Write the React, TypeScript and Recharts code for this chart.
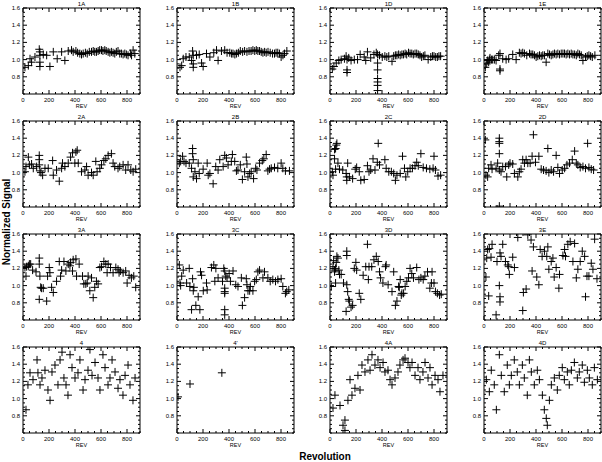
import { ScatterChart, Scatter, XAxis, YAxis, ReferenceArea } from "recharts";

type Pt = [number, number];

// revolution, normalized signal
const p1A: Pt[] = [[15,0.91],[41,0.93],[54,1.01],[66,0.97],[92,1.03],[125,1.12],[130,1.09],[130,1.05],[130,0.97],[130,0.92],[156,1.06],[182,1.05],[207,0.92],[233,1.09],[263,1.01],[297,1.09],[322,0.99],[348,1.10],[373,1.11],[386,1.09],[407,1.10],[420,1.08],[437,1.07],[450,1.06],[463,1.07],[480,1.08],[494,1.07],[510,1.09],[527,1.09],[540,1.10],[552,1.09],[565,1.09],[578,1.10],[590,1.11],[604,1.11],[615,1.10],[629,1.11],[640,1.10],[655,1.09],[668,1.08],[680,1.09],[693,1.08],[706,1.07],[718,1.09],[731,1.10],[744,1.07],[757,1.07],[770,1.06],[783,1.07],[795,1.06],[808,1.05],[826,1.07],[835,1.05],[847,1.11],[860,1.07]];
const p1B: Pt[] = [[23,0.91],[36,0.93],[48,1.01],[69,1.03],[94,1.03],[112,0.99],[120,1.10],[125,1.05],[125,0.95],[125,0.91],[150,1.05],[171,1.06],[189,0.96],[201,0.92],[227,1.07],[253,1.03],[283,1.08],[304,1.11],[316,0.99],[342,1.10],[367,1.11],[385,1.08],[406,1.08],[420,1.07],[431,1.07],[445,1.06],[457,1.07],[472,1.08],[487,1.10],[505,1.09],[520,1.10],[538,1.09],[554,1.10],[570,1.10],[584,1.11],[598,1.10],[610,1.11],[622,1.10],[635,1.10],[648,1.09],[661,1.08],[674,1.09],[686,1.08],[700,1.09],[717,1.08],[735,1.07],[750,1.07],[762,1.08],[775,1.08],[788,1.07],[801,1.03],[815,1.05],[827,1.07],[845,1.10]];
const p1D: Pt[] = [[18,0.89],[30,0.92],[48,0.96],[68,0.99],[86,1.00],[111,1.01],[124,1.04],[131,1.00],[131,0.88],[131,0.85],[144,1.02],[162,0.99],[187,1.00],[212,1.00],[232,1.06],[263,1.03],[275,0.99],[288,1.09],[313,1.02],[338,1.06],[356,1.08],[366,1.06],[366,0.96],[366,0.88],[366,0.78],[366,0.74],[366,0.70],[366,0.64],[381,1.05],[402,1.03],[422,1.04],[437,1.03],[452,1.04],[477,0.98],[490,1.04],[503,1.05],[515,1.05],[528,1.06],[540,1.05],[553,1.06],[565,1.06],[578,1.07],[590,1.06],[604,1.08],[616,1.07],[629,1.07],[641,1.06],[654,1.07],[667,1.07],[679,1.06],[692,1.05],[705,1.03],[718,1.04],[730,1.05],[755,1.00],[775,1.03],[788,1.04],[800,1.04],[813,1.03],[826,1.03],[838,1.04],[851,1.04]];
const p1E: Pt[] = [[10,0.91],[21,0.95],[28,0.99],[36,0.97],[41,1.00],[46,1.02],[57,1.00],[67,1.00],[80,1.00],[93,0.99],[113,1.05],[123,1.07],[123,0.89],[123,0.87],[144,1.01],[170,1.00],[190,1.01],[221,1.06],[247,1.00],[272,1.08],[285,1.07],[298,1.08],[311,1.07],[329,1.05],[350,1.07],[362,1.06],[375,1.06],[388,1.05],[401,1.03],[414,1.04],[427,1.05],[440,1.04],[452,1.05],[465,1.05],[478,0.97],[491,1.07],[504,1.06],[517,1.05],[530,1.06],[542,1.07],[555,1.06],[568,1.07],[581,1.06],[594,1.07],[607,1.07],[619,1.07],[632,1.06],[645,1.07],[658,1.06],[671,1.07],[684,1.06],[697,1.06],[710,1.05],[722,1.07],[735,1.06],[748,1.05],[761,0.99],[781,1.03],[794,1.04],[807,1.05],[820,1.04],[833,1.03],[853,1.05]];

const p2A: Pt[] = [[15,1.01],[23,1.07],[41,1.18],[49,1.09],[66,1.10],[79,1.05],[105,1.07],[125,1.20],[125,1.15],[125,1.09],[130,1.02],[138,1.00],[151,0.97],[169,1.05],[194,1.05],[228,1.14],[233,0.97],[258,1.03],[279,0.90],[297,1.05],[304,1.11],[322,1.07],[348,1.11],[366,1.18],[381,1.23],[399,1.11],[407,1.24],[417,1.26],[425,1.11],[450,1.01],[476,1.03],[489,1.07],[501,0.97],[527,1.00],[540,0.97],[560,1.13],[570,1.01],[591,1.05],[604,1.09],[622,1.14],[637,1.16],[655,1.20],[680,1.22],[693,1.11],[706,1.07],[731,1.05],[744,1.07],[770,1.09],[790,1.03],[808,1.09],[829,1.03],[847,1.01],[867,1.04]];
const p2B: Pt[] = [[18,1.11],[28,1.13],[43,1.19],[54,1.13],[69,1.11],[94,1.11],[112,1.05],[120,1.28],[120,1.22],[125,1.15],[125,0.95],[138,1.01],[150,0.93],[163,1.11],[171,0.99],[201,1.04],[232,1.11],[240,0.97],[253,0.99],[278,0.87],[298,1.07],[316,1.03],[329,1.15],[355,1.07],[367,1.20],[380,1.17],[393,1.09],[418,1.13],[426,1.21],[444,1.13],[457,1.02],[469,1.03],[487,1.09],[503,0.92],[520,1.01],[533,1.18],[538,1.10],[546,0.95],[559,0.99],[571,1.01],[589,0.93],[605,1.05],[615,1.03],[635,1.11],[656,1.14],[668,1.16],[686,1.21],[699,1.02],[712,1.04],[725,1.05],[750,1.06],[775,1.05],[801,1.11],[814,1.05],[834,1.02],[865,1.02]];
const p2C: Pt[] = [[18,1.01],[23,0.97],[35,1.27],[43,1.28],[48,1.32],[53,1.34],[35,1.16],[43,1.04],[61,1.11],[73,1.04],[98,1.03],[124,0.99],[129,0.95],[129,0.91],[136,1.11],[149,0.95],[174,0.93],[194,1.04],[205,1.06],[225,1.01],[237,0.91],[263,0.92],[288,1.08],[300,1.01],[313,1.03],[331,1.16],[346,1.03],[364,1.12],[371,1.34],[381,1.09],[422,1.15],[432,1.05],[452,1.01],[472,1.01],[490,0.99],[503,0.91],[515,0.97],[540,0.99],[558,1.19],[573,1.05],[583,0.95],[598,1.01],[616,1.05],[634,1.05],[654,1.08],[667,1.12],[679,1.08],[699,1.22],[717,1.06],[742,1.05],[768,1.04],[793,1.05],[800,1.19],[811,1.03],[831,0.96],[851,0.97]];
const p2D: Pt[] = [[10,1.38],[15,0.97],[28,0.95],[36,1.05],[54,1.09],[62,1.04],[93,1.05],[105,1.11],[118,1.40],[118,1.36],[118,1.34],[118,1.22],[118,1.03],[118,0.61],[131,1.01],[144,1.07],[165,1.07],[175,0.95],[190,1.09],[200,1.11],[221,1.10],[234,0.99],[260,0.95],[272,1.01],[285,1.04],[298,1.15],[311,1.11],[324,1.15],[337,1.11],[355,1.11],[370,1.19],[380,1.44],[396,1.12],[422,1.19],[440,1.04],[458,1.03],[478,1.02],[491,1.28],[499,1.00],[517,1.03],[535,1.01],[555,1.20],[568,1.06],[581,0.99],[602,1.03],[620,1.05],[638,1.09],[658,1.11],[679,1.15],[697,1.25],[710,1.11],[722,1.09],[740,1.06],[761,1.07],[781,1.05],[797,1.34],[807,1.06],[825,1.04],[843,1.03]];

const p3A: Pt[] = [[15,1.21],[23,1.11],[28,1.22],[41,1.23],[49,1.25],[59,1.25],[74,1.18],[100,1.16],[125,1.32],[125,1.25],[125,0.84],[130,1.11],[136,0.98],[143,0.97],[156,0.97],[182,0.82],[189,1.11],[202,1.21],[207,1.15],[220,0.98],[233,0.92],[258,1.05],[279,1.28],[289,1.11],[297,1.18],[315,1.28],[330,1.17],[348,1.25],[361,1.23],[366,1.27],[381,1.17],[386,1.30],[407,1.31],[412,1.11],[432,1.25],[458,1.11],[468,1.02],[483,1.02],[494,1.03],[501,1.11],[514,0.94],[527,1.09],[540,0.86],[552,0.98],[565,1.05],[578,1.02],[591,1.21],[604,1.22],[622,1.28],[637,1.25],[647,1.15],[655,1.25],[673,1.21],[693,1.15],[714,1.21],[731,1.19],[739,1.15],[749,1.17],[770,1.15],[790,1.17],[801,1.03],[816,1.12],[834,1.09],[852,1.11],[867,0.98]];
const p3C: Pt[] = [[18,1.24],[23,1.03],[28,1.00],[36,1.11],[48,1.18],[74,1.03],[94,1.20],[99,0.99],[112,0.72],[120,1.08],[125,0.94],[130,0.98],[145,0.77],[163,0.87],[176,0.72],[181,1.16],[189,1.12],[202,0.94],[227,1.03],[232,0.95],[265,1.21],[283,1.24],[291,1.05],[299,1.20],[316,1.09],[350,1.05],[360,1.20],[367,1.17],[367,0.97],[367,0.93],[367,0.91],[367,0.72],[367,0.66],[375,1.11],[385,1.09],[401,1.14],[411,1.05],[431,1.17],[452,1.01],[469,0.99],[495,1.09],[503,0.77],[520,0.86],[533,1.08],[538,1.01],[546,0.94],[559,0.94],[564,0.99],[584,0.94],[597,1.05],[610,1.07],[622,1.16],[635,1.18],[661,1.09],[673,1.16],[699,1.09],[717,1.05],[737,1.07],[758,1.05],[776,1.07],[801,1.08],[814,0.99],[834,0.91],[844,0.93],[860,0.95]];
const p3D: Pt[] = [[10,0.99],[23,1.22],[28,1.29],[35,1.18],[35,1.16],[43,1.20],[43,1.03],[48,1.27],[53,1.34],[61,1.32],[68,1.18],[73,1.13],[86,1.13],[104,1.03],[124,0.70],[129,1.40],[129,1.35],[129,1.01],[136,0.93],[144,0.84],[149,0.82],[162,0.75],[174,0.77],[187,1.20],[199,1.27],[205,1.18],[225,0.91],[237,0.84],[255,1.12],[275,1.22],[288,1.48],[295,1.07],[300,1.22],[321,1.22],[338,1.30],[356,1.34],[371,1.28],[381,1.16],[389,1.09],[407,1.03],[427,1.22],[432,1.24],[447,1.01],[477,0.93],[490,1.16],[503,0.77],[515,0.82],[528,0.99],[533,0.98],[540,1.07],[548,0.89],[553,0.91],[566,0.91],[578,0.99],[591,1.05],[604,1.09],[616,1.20],[629,1.14],[642,1.09],[667,1.21],[684,1.07],[699,1.09],[717,1.07],[730,1.11],[750,1.16],[768,0.97],[780,1.03],[785,1.16],[800,1.03],[811,0.93],[826,0.91],[843,0.89],[856,0.90]];
const p3E: Pt[] = [[15,1.10],[21,1.32],[28,1.42],[36,0.88],[41,1.43],[54,1.33],[62,1.48],[93,0.66],[100,1.28],[118,1.00],[123,1.38],[123,0.87],[123,0.81],[131,1.34],[144,1.48],[165,1.28],[183,1.24],[190,1.22],[195,1.13],[221,1.33],[234,1.21],[260,1.56],[298,0.71],[303,0.92],[324,0.96],[337,1.59],[362,1.53],[370,1.17],[380,1.45],[406,1.10],[422,1.01],[432,1.42],[447,1.34],[465,1.40],[483,1.34],[491,1.45],[499,1.19],[517,1.28],[530,1.32],[540,1.10],[555,1.21],[576,0.97],[581,1.13],[607,1.35],[620,1.42],[627,1.34],[645,1.48],[663,1.51],[684,1.28],[697,1.49],[710,1.09],[722,1.19],[740,1.28],[756,1.40],[774,1.34],[781,0.87],[792,1.11],[807,1.11],[825,1.26],[838,1.19],[851,1.54],[869,1.08]];

const p4: Pt[] = [[23,0.87],[38,1.16],[54,1.30],[77,1.22],[108,1.45],[115,1.30],[131,1.16],[146,1.24],[169,1.33],[192,1.10],[208,0.98],[223,1.31],[246,1.39],[269,1.16],[285,1.45],[300,1.54],[315,1.24],[331,1.16],[346,1.04],[362,1.51],[377,1.36],[400,1.24],[423,1.30],[438,1.45],[462,1.10],[477,1.22],[500,1.33],[515,1.57],[531,1.27],[554,1.42],[577,1.24],[592,1.10],[615,1.51],[631,1.36],[654,1.16],[669,1.24],[685,1.45],[708,1.31],[731,1.12],[746,1.22],[769,1.04],[785,1.27],[808,1.39],[823,1.16],[846,0.98],[862,1.24]];
const p4p: Pt[] = [[8,1.02],[100,1.17],[345,1.30]];
const p4A: Pt[] = [[23,0.89],[38,1.04],[77,0.92],[100,0.69],[115,0.63],[115,0.75],[138,0.98],[154,1.22],[169,1.04],[192,1.12],[215,1.27],[231,1.10],[246,1.39],[269,1.31],[292,1.45],[308,1.33],[323,1.51],[346,1.39],[369,1.45],[385,1.36],[408,1.42],[423,1.31],[446,1.33],[462,1.22],[477,1.16],[500,1.24],[523,1.31],[538,1.39],[562,1.45],[577,1.47],[600,1.42],[615,1.36],[631,1.42],[654,1.27],[677,1.36],[692,1.22],[715,1.31],[731,1.42],[754,1.24],[769,1.36],[785,1.16],[808,1.27],[831,1.22],[846,1.08],[869,1.27]];
const p4D: Pt[] = [[18,1.22],[41,1.08],[56,1.33],[79,1.16],[95,0.87],[118,1.51],[133,1.27],[156,1.08],[179,1.39],[195,1.16],[210,1.27],[233,1.45],[256,1.31],[272,1.16],[295,1.39],[310,1.24],[333,1.04],[349,1.45],[364,1.31],[387,1.16],[410,1.33],[426,1.22],[449,1.04],[464,0.87],[479,0.77],[487,0.69],[503,0.98],[518,1.16],[541,1.24],[564,1.10],[579,1.27],[602,1.36],[618,1.22],[641,1.31],[656,1.16],[672,1.33],[695,1.42],[718,1.24],[733,1.31],[756,1.39],[772,1.19],[795,1.33],[810,1.24],[833,1.16],[849,1.36],[872,1.22]];

const TITLES = ["1A", "1B", "1D", "1E", "2A", "2B", "2C", "2D", "3A", "3C", "3D", "3E", "4", "4'", "4A", "4D"];
const SERIES = [p1A, p1B, p1D, p1E, p2A, p2B, p2C, p2D, p3A, p3C, p3D, p3E, p4, p4p, p4A, p4D];

const X_MAJOR = [0, 200, 400, 600, 800];
const X_TICKS = [0, 50, 100, 150, 200, 250, 300, 350, 400, 450, 500, 550, 600, 650, 700, 750, 800, 850, 900];
const Y_MAJOR = [0.8, 1.0, 1.2, 1.4, 1.6];
const Y_TICKS = [0.6, 0.65, 0.7, 0.75, 0.8, 0.85, 0.9, 0.95, 1.0, 1.05, 1.1, 1.15, 1.2, 1.25, 1.3, 1.35, 1.4, 1.45, 1.5, 1.55, 1.6];

const COL_X = [0, 154, 307, 461];
const ROW_Y = [0, 113, 226, 339];
const PLOT_W = 117;
const PLOT_H = 86;
const FONT = "'Liberation Sans', Arial, sans-serif";

function XTick(props: any) {
  const { x, y, payload } = props;
  const v = payload.value;
  const major = X_MAJOR.includes(v);
  const base = y - 3;
  const len = major ? 4 : 2;
  return (
    <g>
      <line x1={x} x2={x} y1={base} y2={base - len} stroke="#000" />
      <line x1={x} x2={x} y1={base - PLOT_H} y2={base - PLOT_H + len} stroke="#000" />
      {major && (
        <text x={x} y={base + 8} textAnchor="middle" fontSize={6} fontFamily={FONT} fill="#000">
          {v}
        </text>
      )}
    </g>
  );
}

function YTick(props: any) {
  const { x, y, payload } = props;
  const v = payload.value;
  const major = Y_MAJOR.some((m) => Math.abs(m - v) < 1e-6);
  const base = x + 3;
  const len = major ? 4 : 2;
  return (
    <g>
      <line x1={base} x2={base + len} y1={y} y2={y} stroke="#000" />
      <line x1={base + PLOT_W} x2={base + PLOT_W - len} y1={y} y2={y} stroke="#000" />
      {major && (
        <text x={x} y={y + 2} textAnchor="end" fontSize={6} fontFamily={FONT} fill="#000">
          {v.toFixed(1)}
        </text>
      )}
    </g>
  );
}

function Plus(props: any) {
  const { cx, cy } = props;
  if (cx == null || cy == null) return null;
  return <path d={`M${cx - 4},${cy}h8M${cx},${cy - 4}v8`} stroke="#000" strokeWidth={1} fill="none" />;
}

function Panel({ title, data }: { title: string; data: Pt[] }) {
  const pts = data.map(([rev, val]) => ({ x: rev, y: val }));
  return (
    <ScatterChart width={154} height={113} margin={{ top: 8, right: 14, bottom: 0, left: 0 }}>
      <XAxis
        dataKey="x"
        type="number"
        domain={[0, 900]}
        ticks={X_TICKS}
        interval={0}
        allowDataOverflow
        height={19}
        tickSize={0}
        tickMargin={3}
        tickLine={false}
        axisLine={false}
        tick={<XTick />}
        label={(p: any) => {
          const vb = p.viewBox;
          return (
            <text x={vb.x + vb.width / 2} y={vb.y + 14} textAnchor="middle" fontSize={5.5} fontFamily={FONT} fill="#000">
              REV
            </text>
          );
        }}
      />
      <YAxis
        dataKey="y"
        type="number"
        domain={[0.6, 1.6]}
        ticks={Y_TICKS}
        interval={0}
        allowDataOverflow
        width={23}
        tickSize={0}
        tickMargin={3}
        tickLine={false}
        axisLine={false}
        tick={<YTick />}
      />
      <ReferenceArea
        x1={0}
        x2={900}
        y1={0.6}
        y2={1.6}
        fill="none"
        stroke="#000"
        strokeWidth={1}
        fillOpacity={0}
        label={(p: any) => {
          const vb = p.viewBox;
          return (
            <text x={vb.x + vb.width / 2} y={vb.y - 2.5} textAnchor="middle" fontSize={6} fontFamily={FONT} fill="#000">
              {title}
            </text>
          );
        }}
      />
      <Scatter data={pts} shape={<Plus />} isAnimationActive={false} />
    </ScatterChart>
  );
}

export default function App() {
  return (
    <div
      style={{
        position: "absolute",
        left: 0,
        top: 0,
        width: 602,
        height: 462,
        background: "#fff",
        overflow: "hidden",
        fontFamily: FONT,
      }}
    >
      {SERIES.map((data, i) => (
        <div
          key={TITLES[i]}
          style={{ position: "absolute", left: COL_X[i % 4], top: ROW_Y[Math.floor(i / 4)] }}
        >
          <Panel title={TITLES[i]} data={data} />
        </div>
      ))}
      <div
        style={{
          position: "absolute",
          left: 6,
          top: 222,
          transform: "translate(-50%, -50%) rotate(-90deg)",
          whiteSpace: "nowrap",
          fontWeight: "bold",
          fontSize: 10,
        }}
      >
        Normalized Signal
      </div>
      <div
        style={{
          position: "absolute",
          left: 325,
          top: 456,
          transform: "translate(-50%, -50%)",
          whiteSpace: "nowrap",
          fontWeight: "bold",
          fontSize: 10,
        }}
      >
        Revolution
      </div>
    </div>
  );
}
